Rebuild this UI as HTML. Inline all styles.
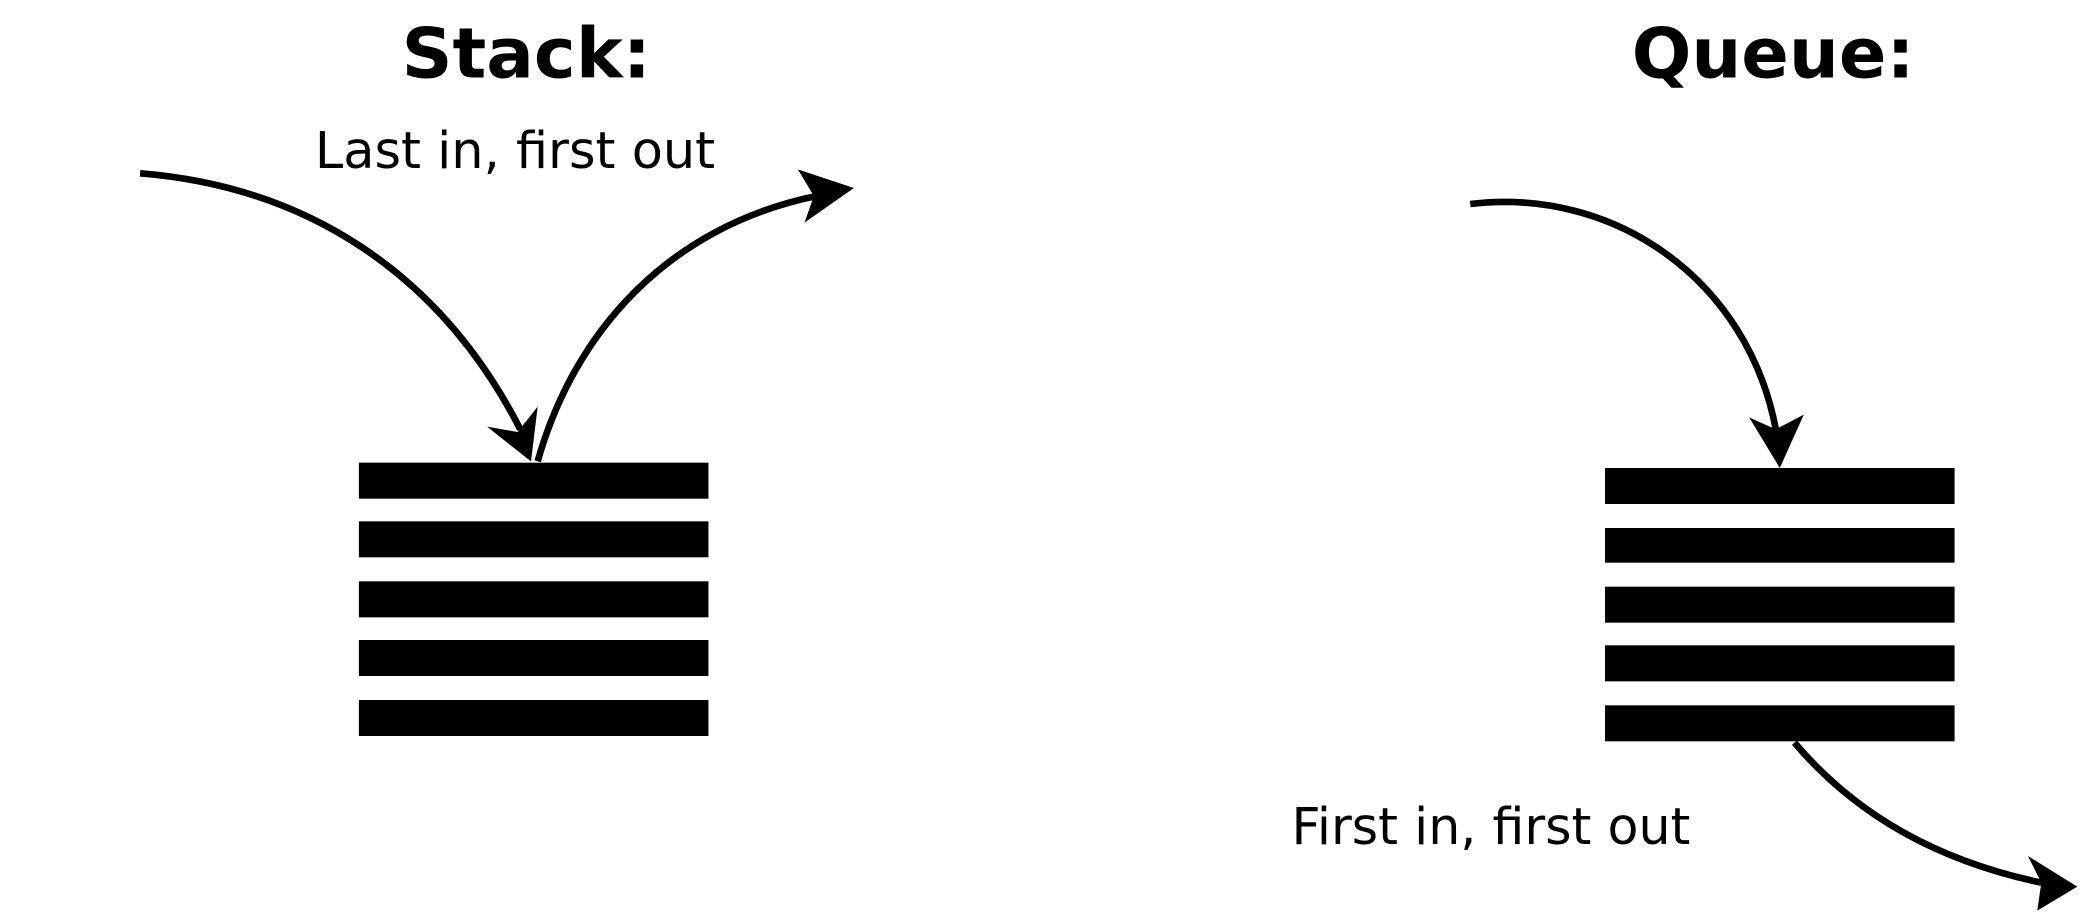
<!DOCTYPE html>
<html><head><meta charset="utf-8"><style>
html,body{margin:0;padding:0;background:#fff;}
svg{display:block;}
text{font-family:"DejaVu Sans","Liberation Sans",sans-serif;fill:#000;}
</style></head><body>
<svg width="2092" height="912" viewBox="0 0 1568 684" preserveAspectRatio="none">
<rect width="1568" height="684" fill="#fff"/>
<g>
<text x="301" y="58" font-size="52" font-weight="bold" textLength="187" lengthAdjust="spacingAndGlyphs">Stack:</text>
<text x="236" y="126" font-size="38" textLength="300" lengthAdjust="spacingAndGlyphs">Last in, first out</text>
<g fill="#000">
<rect x="269" y="347" width="262" height="27"/>
<rect x="269" y="391" width="262" height="27"/>
<rect x="269" y="436" width="262" height="27"/>
<rect x="269" y="480" width="262" height="27"/>
<rect x="269" y="525" width="262" height="27"/>
</g>
<path d="M105,130 C230,140 330,205 390,322" fill="none" stroke="#000" stroke-width="5"/>
<polygon points="398,346 365,320 388,324 403,305" fill="#000"/>
<path d="M403,346 C430,250 500,170 612,147" fill="none" stroke="#000" stroke-width="5"/>
<polygon points="640,141 598,127 610,147 603,167" fill="#000"/>
</g>
<g>
<text x="1223" y="58" font-size="52" font-weight="bold" textLength="212" lengthAdjust="spacingAndGlyphs">Queue:</text>
<text x="968" y="633" font-size="38" textLength="299" lengthAdjust="spacingAndGlyphs">First in, first out</text>
<g fill="#000">
<rect x="1203" y="351" width="262" height="27"/>
<rect x="1203" y="396" width="262" height="26"/>
<rect x="1203" y="440" width="262" height="27"/>
<rect x="1203" y="484" width="262" height="27"/>
<rect x="1203" y="529" width="262" height="27"/>
</g>
<path d="M1102,153 C1210,140 1310,210 1331,322" fill="none" stroke="#000" stroke-width="5"/>
<polygon points="1334,351 1311,313 1331,322 1352,311" fill="#000"/>
<path d="M1345,557 C1390,610 1450,645 1530,662" fill="none" stroke="#000" stroke-width="5"/>
<polygon points="1557,665 1520,642 1530,662 1527,683" fill="#000"/>
</g>
</svg>
</body></html>
